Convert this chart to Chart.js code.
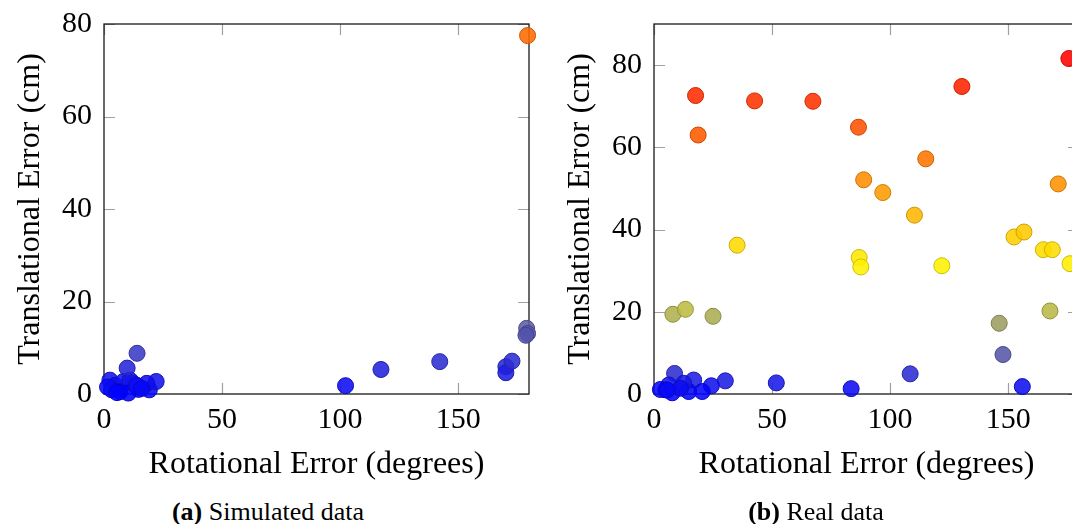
<!DOCTYPE html>
<html>
<head>
<meta charset="utf-8">
<script src="https://cdn.jsdelivr.net/npm/chart.js@4.4.1/dist/chart.umd.min.js"></script>
<style>
  html, body { margin: 0; padding: 0; background: #fff; }
  body { position: relative; width: 1072px; height: 524px; overflow: hidden; }
  canvas { position: absolute; top: -6px; }
  #simChart { left: 0; }
  #realChart { left: 550px; }
  .caption {
    position: absolute; top: 497px; width: 300px; text-align: center;
    font-family: 'Liberation Serif', serif; font-size: 26px; color: #000;
  }
</style>
</head>
<body>
<canvas id="simChart" width="560" height="496"></canvas>
<canvas id="realChart" width="560" height="496"></canvas>
<div class="caption" style="left:118px"><b>(a)</b> Simulated data</div>
<div class="caption" style="left:666px"><b>(b)</b> Real data</div>
<script>
// (a) simulated data
var simRot   = [2.5, 4.7, 8.2, 6.8, 3.3, 14.6, 19.2, 22.1, 18.1, 12.4, 11.0, 10.3, 13.8, 1.5, 5.5, 16.0, 9.8, 14.0,
                102.3, 117.3, 142.2, 170.2, 170.2, 172.8, 179.0, 179.4, 178.7, 179.4];
var simTrans = [3.0, 1.9, 2.7, 0.5, 0.9, 1.0, 0.9, 2.7, 2.3, 2.3, 3.0, 0.2, 1.9, 1.5, 0.3, 1.2, 5.6, 8.8,
                1.8, 5.3, 7.0, 5.9, 4.6, 7.1, 14.2, 13.1, 12.7, 77.5];

// (b) real data
var realRot   = [17.6, 18.7, 42.6, 67.3, 86.6, 130.4, 175.7, 115.1, 88.8, 96.9, 110.3, 171.2,
                 35.2, 86.9, 87.6, 121.9, 152.5, 156.7, 164.9, 168.7, 176.2,
                 8.0, 13.3, 25.0, 146.2, 167.7, 147.8,
                 108.5, 156.0, 83.5, 51.8, 30.2, 24.3, 8.7, 16.8, 4.9, 7.7, 14.7, 12.6, 20.4, 6.3, 11.2, 2.7, 5.6];
var realTrans = [72.6, 63.0, 71.3, 71.2, 64.9, 74.8, 81.6, 57.2, 52.1, 49.0, 43.5, 51.1,
                 36.2, 33.2, 30.9, 31.2, 38.2, 39.4, 35.1, 35.1, 31.7,
                 19.4, 20.6, 18.9, 17.2, 20.2, 9.6,
                 4.9, 1.8, 1.3, 2.7, 3.2, 2.0, 5.0, 3.4, 1.0, 0.3, 0.6, 2.6, 0.6, 2.2, 1.4, 1.1, 1.0];

var rotTicks = [0, 50, 100, 150];
var simTransTicks = [0, 20, 40, 60, 80];
var realTransTicks = [0, 20, 40, 60, 80];

// colormap blue -> yellow -> red, stops given in data units
function mapColor(v, stops) {
  var cols = [[0, 0, 255], [255, 255, 0], [255, 0, 0]];
  var i = v <= stops[1] ? 0 : 1;
  var t = (v - stops[i]) / (stops[i + 1] - stops[i]);
  t = Math.max(0, Math.min(1, t));
  return cols[i].map(function(c, k) { return Math.round(c + (cols[i + 1][k] - c) * t); });
}

var serif = "'Liberation Serif', serif";

// frame + inward ticks drawn like pgfplots
var framePlugin = {
  id: 'frame',
  beforeDatasetsDraw: function(chart) {
    var ctx = chart.ctx, a = chart.chartArea;
    var xs = chart.scales.x, ys = chart.scales.y;
    ctx.save();
    ctx.strokeStyle = '#a0a0a0';
    ctx.lineWidth = 1.2;
    xs.ticks.forEach(function(t) {
      var px = Math.round(xs.getPixelForValue(t.value)) + 0.5;
      ctx.beginPath();
      ctx.moveTo(px, a.bottom); ctx.lineTo(px, a.bottom - 11);
      ctx.moveTo(px, a.top); ctx.lineTo(px, a.top + 11);
      ctx.stroke();
    });
    ys.ticks.forEach(function(t) {
      var py = Math.round(ys.getPixelForValue(t.value)) + 0.5;
      ctx.beginPath();
      ctx.moveTo(a.left, py); ctx.lineTo(a.left + 11, py);
      ctx.moveTo(a.right, py); ctx.lineTo(a.right - 11, py);
      ctx.stroke();
    });
    ctx.strokeStyle = '#1a1a1a';
    ctx.lineWidth = 1.3;
    ctx.strokeRect(a.left, a.top, a.right - a.left, a.bottom - a.top);
    ctx.restore();
  }
};

function makeChart(id, rot, trans, yMax, yTicks, stops) {
  var fills = [], borders = [];
  trans.forEach(function(v) {
    var c = mapColor(v, stops);
    fills.push('rgba(' + c.join(',') + ',0.88)');
    borders.push('rgb(' + c.map(function(x) { return Math.round(x * 0.8); }).join(',') + ')');
  });
  var pts = rot.map(function(r, i) { return { x: r, y: trans[i] }; });

  return new Chart(document.getElementById(id).getContext('2d'), {
    type: 'scatter',
    data: {
      datasets: [{
        data: pts,
        pointRadius: 8,
        pointBorderWidth: 1,
        pointBackgroundColor: fills,
        pointBorderColor: borders,
        clip: false
      }]
    },
    options: {
      responsive: false,
      animation: false,
      events: [],
      layout: { padding: { top: 18, right: 31, left: 0, bottom: 0 } },
      plugins: { legend: { display: false }, tooltip: { enabled: false } },
      scales: {
        x: {
          type: 'linear', min: 0, max: 180,
          afterFit: function(s) { s.height = 96; },
          afterBuildTicks: function(s) { s.ticks = rotTicks.map(function(v) { return { value: v }; }); },
          grid: { display: false, drawTicks: false },
          border: { display: false },
          ticks: { padding: 8, color: '#000', font: { family: serif, size: 30 } },
          title: {
            display: true, text: 'Rotational Error (degrees)', color: '#000',
            font: { family: serif, size: 32 }, padding: { top: 0, bottom: 6 }
          }
        },
        y: {
          type: 'linear', min: 0, max: yMax,
          afterFit: function(s) { s.width = 104; },
          afterBuildTicks: function(s) { s.ticks = yTicks.map(function(v) { return { value: v }; }); },
          grid: { display: false, drawTicks: false },
          border: { display: false },
          ticks: { padding: 12, color: '#000', font: { family: serif, size: 30 } },
          title: {
            display: true, text: 'Translational Error (cm)', color: '#000',
            font: { family: serif, size: 32 }, padding: { top: 11, bottom: 0 }
          }
        }
      }
    },
    plugins: [framePlugin]
  });
}

makeChart('simChart', simRot, simTrans, 80, simTransTicks, [0, 39, 105]);
makeChart('realChart', realRot, realTrans, 90, realTransTicks, [0, 28, 82]);
</script>
</body>
</html>
